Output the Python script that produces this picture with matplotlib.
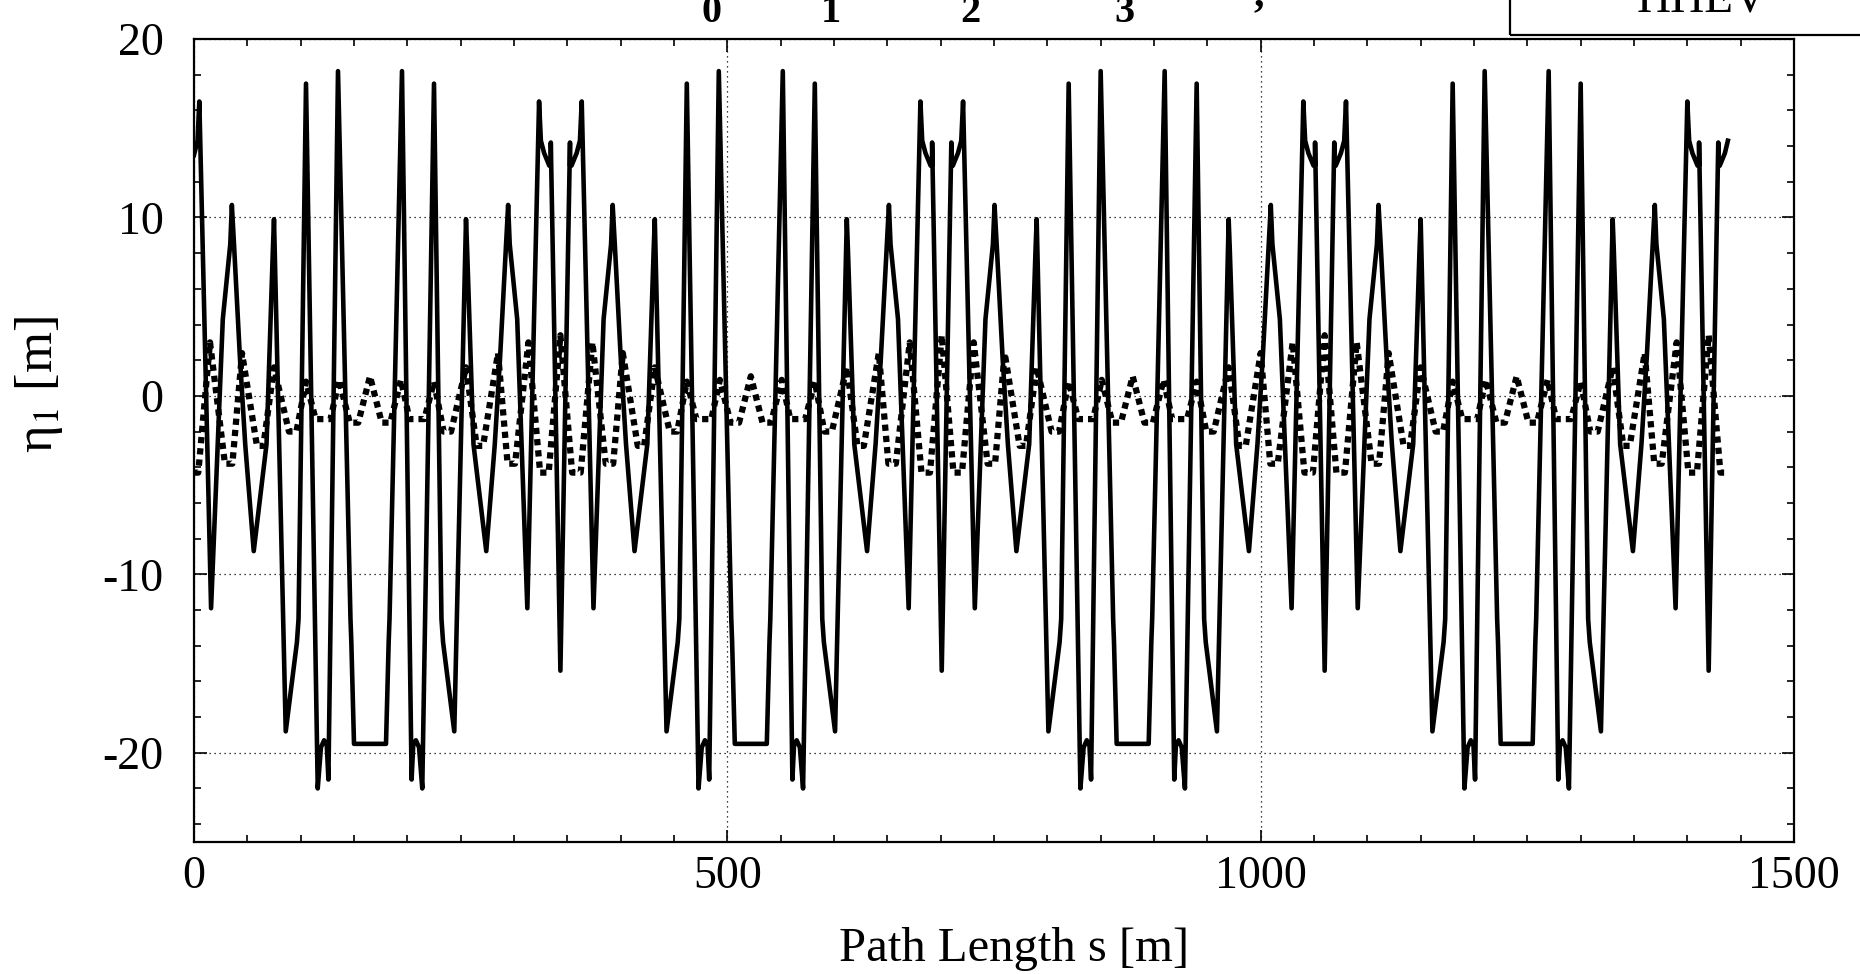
import matplotlib.pyplot as plt
from matplotlib.ticker import MultipleLocator
from matplotlib.patches import Rectangle

plt.rcParams['font.family'] = ['Liberation Serif', 'DejaVu Serif']
plt.rcParams['mathtext.fontset'] = 'stix'
plt.rcParams['axes.unicode_minus'] = False

#%% solid curve: path length s [m] and eta_1 [m], one line per block
s_solid = [0, 3.3, 5, 16,
           27, 34, 35.5, 37.5, 43, 48, 56, 68, 74, 75, 86, 96.5, 98, 105, 116, 119, 122, 124.5, 126, 135, 146.7, 147.5, 150,
           180, 182.5, 183.3, 195, 204, 205.5, 208, 211, 214, 225, 232, 233.5, 244, 255, 256, 262, 274, 282, 287, 292.5, 294.5, 296, 303,
           312.5, 323.5, 325.2, 328.3, 333.1, 334.4, 334.5, 343.5, 352.5, 352.6, 353.9, 358.7, 361.8, 363.5, 374.5,
           384, 391, 392.5, 394.5, 400, 405, 413, 425, 431, 432, 443, 453.5, 455, 462, 473, 476, 479, 481.5, 483, 492, 503.7, 504.5, 507,
           537, 539.5, 540.3, 552, 561, 562.5, 565, 568, 571, 582, 589, 590.5, 601, 612, 613, 619, 631, 639, 644, 649.5, 651.5, 653, 660,
           670, 681, 682.7, 685.8, 690.6, 691.9, 692, 701, 710, 710.1, 711.4, 716.2, 719.3, 721, 732,
           742, 749, 750.5, 752.5, 758, 763, 771, 783, 789, 790, 801, 811.5, 813, 820, 831, 834, 837, 839.5, 841, 850, 861.7, 862.5, 865,
           895, 897.5, 898.3, 910, 919, 920.5, 923, 926, 929, 940, 947, 948.5, 959, 970, 971, 977, 989, 997, 1002, 1007.5, 1009.5, 1011, 1018,
           1029, 1040, 1041.7, 1044.8, 1049.6, 1050.9, 1051, 1060, 1069, 1069.1, 1070.4, 1075.2, 1078.3, 1080, 1091,
           1102, 1109, 1110.5, 1112.5, 1118, 1123, 1131, 1143, 1149, 1150, 1161, 1171.5, 1173, 1180, 1191, 1194, 1197, 1199.5, 1201, 1210, 1221.7, 1222.5, 1225,
           1255, 1257.5, 1258.3, 1270, 1279, 1280.5, 1283, 1286, 1289, 1300, 1307, 1308.5, 1319, 1330, 1331, 1337, 1349, 1357, 1362, 1367.5, 1369.5, 1371, 1378,
           1389, 1400, 1401.7, 1404.8, 1409.6, 1410.9, 1411, 1420, 1429, 1429.1, 1430.4, 1435.2, 1438]

eta_solid = [13.5, 14.3, 16.5, -11.9,
             4.3, 8.5, 10.7, 8.5, 2.2, -2.7, -8.7, -2.7, 8.3, 9.9, -18.8, -13.8, -12.5, 17.5, -22.0, -19.7, -19.3, -19.6, -21.5, 18.2, -12.5, -13.8, -19.5,
             -19.5, -13.8, -12.5, 18.2, -21.5, -19.6, -19.3, -19.7, -22.0, 17.5, -12.5, -13.8, -18.8, 9.9, 8.3, -2.7, -8.7, -2.7, 2.2, 8.5, 10.7, 8.5, 4.3,
             -11.9, 16.5, 14.3, 13.6, 12.9, 12.9, 14.2, -15.4, 14.2, 12.9, 12.9, 13.6, 14.3, 16.5, -11.9,
             4.3, 8.5, 10.7, 8.5, 2.2, -2.7, -8.7, -2.7, 8.3, 9.9, -18.8, -13.8, -12.5, 17.5, -22.0, -19.7, -19.3, -19.6, -21.5, 18.2, -12.5, -13.8, -19.5,
             -19.5, -13.8, -12.5, 18.2, -21.5, -19.6, -19.3, -19.7, -22.0, 17.5, -12.5, -13.8, -18.8, 9.9, 8.3, -2.7, -8.7, -2.7, 2.2, 8.5, 10.7, 8.5, 4.3,
             -11.9, 16.5, 14.3, 13.6, 12.9, 12.9, 14.2, -15.4, 14.2, 12.9, 12.9, 13.6, 14.3, 16.5, -11.9,
             4.3, 8.5, 10.7, 8.5, 2.2, -2.7, -8.7, -2.7, 8.3, 9.9, -18.8, -13.8, -12.5, 17.5, -22.0, -19.7, -19.3, -19.6, -21.5, 18.2, -12.5, -13.8, -19.5,
             -19.5, -13.8, -12.5, 18.2, -21.5, -19.6, -19.3, -19.7, -22.0, 17.5, -12.5, -13.8, -18.8, 9.9, 8.3, -2.7, -8.7, -2.7, 2.2, 8.5, 10.7, 8.5, 4.3,
             -11.9, 16.5, 14.3, 13.6, 12.9, 12.9, 14.2, -15.4, 14.2, 12.9, 12.9, 13.6, 14.3, 16.5, -11.9,
             4.3, 8.5, 10.7, 8.5, 2.2, -2.7, -8.7, -2.7, 8.3, 9.9, -18.8, -13.8, -12.5, 17.5, -22.0, -19.7, -19.3, -19.6, -21.5, 18.2, -12.5, -13.8, -19.5,
             -19.5, -13.8, -12.5, 18.2, -21.5, -19.6, -19.3, -19.7, -22.0, 17.5, -12.5, -13.8, -18.8, 9.9, 8.3, -2.7, -8.7, -2.7, 2.2, 8.5, 10.7, 8.5, 4.3,
             -11.9, 16.5, 14.3, 13.6, 12.9, 12.9, 14.2, -15.4, 14.2, 12.9, 12.9, 13.6, 14.3]

#%% dotted curve
s_dot = [0, 4, 15,
         29, 36, 45, 59, 65, 75, 89, 96, 105, 114, 128, 136, 146, 154, 165, 176, 184, 194, 202, 216, 225, 234, 241, 255, 265, 271, 285, 294, 301,
         313.5, 324.5, 332.5, 343.5, 354.5, 362.5, 373.5,
         386, 393, 402, 416, 422, 432, 446, 453, 462, 471, 485, 493, 503, 511, 522, 533, 541, 551, 559, 573, 582, 591, 598, 612, 622, 628, 642, 651, 658,
         671, 682, 690, 701, 712, 720, 731,
         744, 751, 760, 774, 780, 790, 804, 811, 820, 829, 843, 851, 861, 869, 880, 891, 899, 909, 917, 931, 940, 949, 956, 970, 980, 986, 1000, 1009, 1016,
         1030, 1041, 1049, 1060, 1071, 1079, 1090,
         1104, 1111, 1120, 1134, 1140, 1150, 1164, 1171, 1180, 1189, 1203, 1211, 1221, 1229, 1240, 1251, 1259, 1269, 1277, 1291, 1300, 1309, 1316, 1330, 1340, 1346, 1360, 1369, 1376,
         1390, 1401, 1409, 1420, 1431, 1437]

eta_dot = [-4.3, -4.3, 3.0,
           -3.8, -3.8, 2.4, -2.8, -2.8, 1.6, -2.0, -2.0, 0.8, -1.3, -1.3, 0.9, -1.5, -1.5, 1.1, -1.5, -1.5, 0.9, -1.3, -1.3, 0.8, -2.0, -2.0, 1.6, -2.8, -2.8, 2.4, -3.8, -3.8,
           3.0, -4.3, -4.3, 3.4, -4.3, -4.3, 3.0,
           -3.8, -3.8, 2.4, -2.8, -2.8, 1.6, -2.0, -2.0, 0.8, -1.3, -1.3, 0.9, -1.5, -1.5, 1.1, -1.5, -1.5, 0.9, -1.3, -1.3, 0.8, -2.0, -2.0, 1.6, -2.8, -2.8, 2.4, -3.8, -3.8,
           3.0, -4.3, -4.3, 3.4, -4.3, -4.3, 3.0,
           -3.8, -3.8, 2.4, -2.8, -2.8, 1.6, -2.0, -2.0, 0.8, -1.3, -1.3, 0.9, -1.5, -1.5, 1.1, -1.5, -1.5, 0.9, -1.3, -1.3, 0.8, -2.0, -2.0, 1.6, -2.8, -2.8, 2.4, -3.8, -3.8,
           3.0, -4.3, -4.3, 3.4, -4.3, -4.3, 3.0,
           -3.8, -3.8, 2.4, -2.8, -2.8, 1.6, -2.0, -2.0, 0.8, -1.3, -1.3, 0.9, -1.5, -1.5, 1.1, -1.5, -1.5, 0.9, -1.3, -1.3, 0.8, -2.0, -2.0, 1.6, -2.8, -2.8, 2.4, -3.8, -3.8,
           3.0, -4.3, -4.3, 3.4, -4.3, -4.3]

x_ticks = [0, 500, 1000, 1500]
y_ticks = [-20, -10, 0, 10, 20]
title_bits = ['0', '1', '2', '3']   # only the lower part of the title survives on the scan

#%% plot
fig = plt.figure(figsize=(18.6, 9.74), dpi=100)
ax = fig.add_axes([194/1860, 1-842/974, 1600/1860, (842-39)/974])

ax.plot(s_solid, eta_solid, color='black', lw=3.3)
ax.plot(s_dot, eta_dot, color='black', lw=4.5, linestyle=(0, (1, 0.8)), dash_capstyle='butt')

ax.set_xlim(0, 1500)
ax.set_ylim(-25, 20)
ax.set_xticks(x_ticks)
ax.set_yticks(y_ticks)
ax.xaxis.set_minor_locator(MultipleLocator(50))
ax.yaxis.set_minor_locator(MultipleLocator(2))
ax.grid(True, which='major', color='black', lw=0.9, linestyle=(0, (1, 3)))

ax.tick_params(which='both', direction='in', top=True, right=True, labelsize=33, width=1.2)
ax.tick_params(which='major', length=9)
ax.tick_params(which='minor', length=5)
ax.tick_params(axis='x', pad=10)
ax.tick_params(axis='y', pad=22)
for sp in ax.spines.values():
    sp.set_linewidth(1.6)

ax.set_xlabel('Path Length s [m]', fontsize=35, va='center')
ax.xaxis.set_label_coords(0.5125, -0.1336)
ax.set_ylabel('η$_1$ [m]', fontsize=38, va='center')
ax.yaxis.set_label_coords(-0.097, 0.57)

# cut-off title and label box at the top edge of the scan
for xb, t in zip([711, 831, 970, 1124], title_bits):
    fig.text(xb/1860, 1-22/974, t, fontsize=29, fontweight='bold', ha='center', va='baseline')
fig.text(1259/1860, 1-5/974, ',', fontsize=30, fontweight='bold', ha='center', va='baseline')
fig.text(1702/1860, 1-12/974, 'HHEV', fontsize=34, ha='center', va='baseline')
fig.add_artist(Rectangle((1510/1860, 1-35/974), 0.3, 0.2, transform=fig.transFigure,
                         fill=False, lw=1.6, color='black', clip_on=False))

plt.savefig('out.png', dpi=100)
